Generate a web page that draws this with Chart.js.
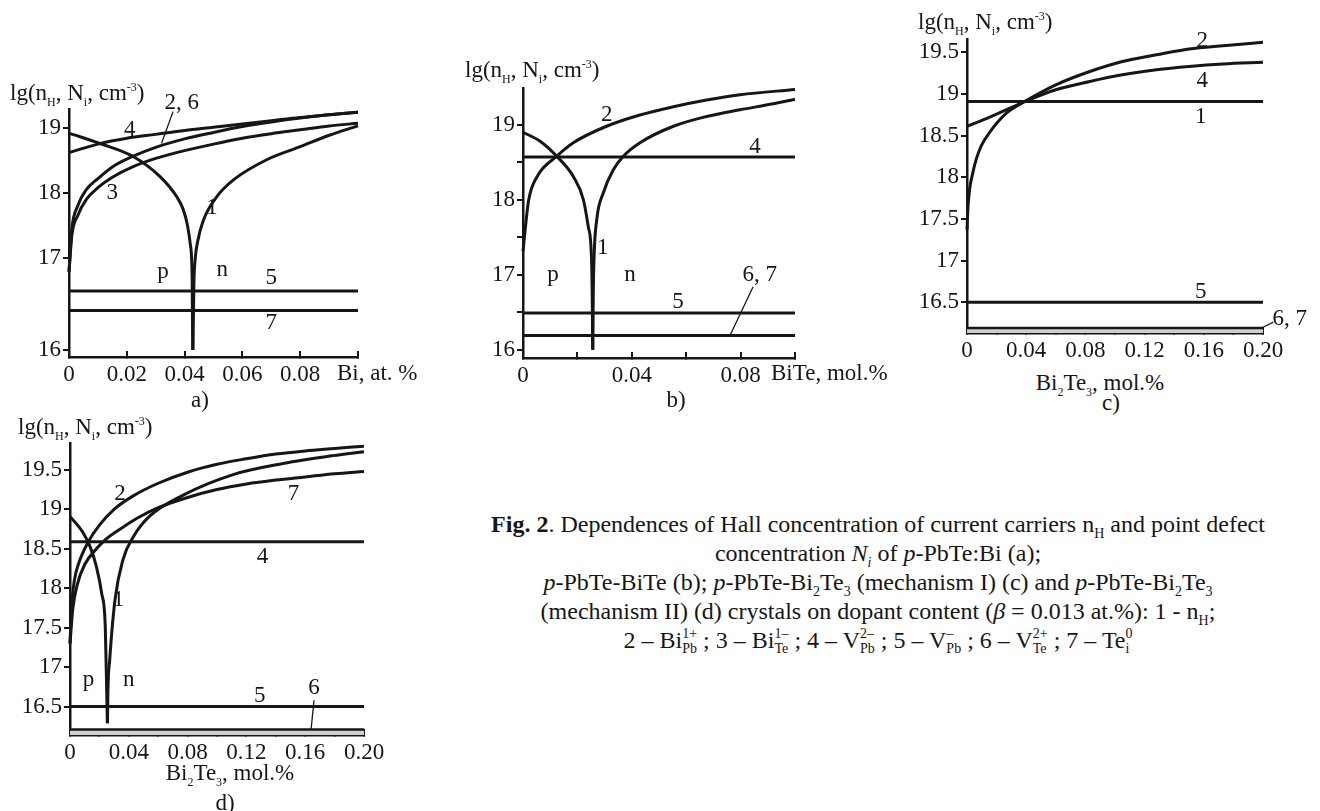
<!DOCTYPE html>
<html>
<head>
<meta charset="utf-8">
<title>Fig. 2</title>
<script src="https://cdn.jsdelivr.net/npm/chart.js@4.4.1/dist/chart.umd.min.js"></script>
<style>
  body { margin: 0; background: #fff; }
  #fig { position: relative; width: 1320px; height: 811px; overflow: hidden;
         font-family: "Liberation Serif", "Times New Roman", serif; color: #161616; }
  canvas { position: absolute; }
  .txt { position: absolute; font-size: 23px; line-height: 26px; white-space: nowrap; }
  .mid { transform: translateX(-50%); }
  .txt sub, .txt sup { font-size: 12px; line-height: 0; }
  .caption { position: absolute; left: 443px; width: 870px; top: 510px; text-align: center;
             font-size: 24px; line-height: 29px; white-space: nowrap; }
  .caption sub { font-size: 14px; line-height: 0; }
  .ss { display: inline-block; font-size: 14px; line-height: 15px; vertical-align: -5px; text-align: left; }
</style>
</head>
<body>
<div id="fig">
  <canvas id="chartA"></canvas>
  <canvas id="chartB"></canvas>
  <canvas id="chartC"></canvas>
  <canvas id="chartD"></canvas>

  <div class="txt" style="left:10px;top:80px">lg(n<sub>H</sub>, N<sub>i</sub>, cm<sup>-3</sup>)</div>
  <div class="txt" style="left:337px;top:360px">Bi, at. %</div>
  <div class="txt mid" style="left:200px;top:387px">a)</div>

  <div class="txt" style="left:465px;top:57px">lg(n<sub>H</sub>, N<sub>i</sub>, cm<sup>-3</sup>)</div>
  <div class="txt" style="left:771px;top:360px">BiTe, mol.%</div>
  <div class="txt mid" style="left:676px;top:387px">b)</div>

  <div class="txt" style="left:918px;top:9px">lg(n<sub>H</sub>, N<sub>i</sub>, cm<sup>-3</sup>)</div>
  <div class="txt mid" style="left:1100px;top:370px">Bi<sub>2</sub>Te<sub>3</sub>, mol.%</div>
  <div class="txt mid" style="left:1111px;top:390px">c)</div>

  <div class="txt" style="left:18px;top:414px">lg(n<sub>H</sub>, N<sub>i</sub>, cm<sup>-3</sup>)</div>
  <div class="txt mid" style="left:230px;top:760px">Bi<sub>2</sub>Te<sub>3</sub>, mol.%</div>
  <div class="txt mid" style="left:225px;top:790px">d)</div>

  <div class="caption">
    <b>Fig. 2</b>. Dependences of Hall concentration of current carriers n<sub>H</sub> and point defect<br>
    concentration <i>N<sub>i</sub></i> of <i>p</i>-PbTe:Bi (a);<br>
    <i>p</i>-PbTe-BiTe (b); <i>p</i>-PbTe-Bi<sub>2</sub>Te<sub>3</sub> (mechanism I) (c) and <i>p</i>-PbTe-Bi<sub>2</sub>Te<sub>3</sub><br>
    (mechanism II) (d) crystals on dopant content (<i>β</i> = 0.013 at.%): 1 - n<sub>H</sub>;<br>
    2 – Bi<span class="ss">1+<br>Pb</span> ; 3 – Bi<span class="ss">1–<br>Te</span> ; 4 – V<span class="ss">2–<br>Pb</span> ;
    5 – V<span class="ss">–<br>Pb</span> ; 6 – V<span class="ss">2+<br>Te</span> ; 7 – Te<span class="ss">0<br>i</span>
  </div>
</div>

<script>
// ---- panel a: p-PbTe:Bi, x in at.% Bi ----
const aXTicks = [0, 0.02, 0.04, 0.06, 0.08, 0.1];
const aXLabels = ['0', '0.02', '0.04', '0.06', '0.08', ''];
const aYTicks = [16, 17, 18, 19];
const aYLabels = ['16', '17', '18', '19'];
const aCurve1pX = [0, 0.0107, 0.0222, 0.0315, 0.0373, 0.0395, 0.041, 0.042, 0.0426, 0.0428];
const aCurve1pY = [18.92, 18.76, 18.56, 18.25, 17.94, 17.75, 17.5, 17.2, 16.8, 16.0];
const aCurve1nX = [0.0429, 0.0432, 0.0437, 0.0445, 0.0465, 0.0511, 0.0569, 0.0684, 0.08, 0.0903, 0.1];
const aCurve1nY = [16.0, 16.7, 17.0, 17.25, 17.58, 17.94, 18.2, 18.51, 18.71, 18.89, 19.03];
const aCurve26X = [0, 0.001, 0.003, 0.006, 0.01, 0.015, 0.022, 0.03, 0.04, 0.05, 0.06, 0.07, 0.08, 0.09, 0.1];
const aCurve26Y = [16.85, 17.45, 17.8, 18.05, 18.22, 18.4, 18.56, 18.7, 18.83, 18.93, 19.02, 19.09, 19.15, 19.2, 19.24];
const aCurve4X = [0, 0.01, 0.02, 0.03, 0.04, 0.05, 0.06, 0.07, 0.08, 0.09, 0.1];
const aCurve4Y = [18.62, 18.75, 18.84, 18.9, 18.96, 19.01, 19.06, 19.11, 19.16, 19.2, 19.24];
const aCurve3X = [0, 0.001, 0.003, 0.006, 0.01, 0.015, 0.022, 0.03, 0.04, 0.05, 0.06, 0.07, 0.08, 0.09, 0.1];
const aCurve3Y = [16.85, 17.35, 17.65, 17.9, 18.08, 18.24, 18.4, 18.53, 18.65, 18.75, 18.84, 18.91, 18.97, 19.03, 19.07];
const aLevel5 = 16.64;
const aLevel7 = 16.43;

// ---- panel b: p-PbTe-BiTe, x in mol.% BiTe ----
const bXTicks = [0, 0.02, 0.04, 0.06, 0.08, 0.1];
const bXLabels = ['0', '', '0.04', '', '0.08', ''];
const bYTicks = [16, 16.5, 17, 17.5, 18, 18.5, 19];
const bYLabels = ['16', '', '17', '', '18', '', '19'];
const bCurve1pX = [0, 0.0063, 0.0124, 0.0185, 0.0222, 0.024, 0.0252, 0.0255, 0.0256];
const bCurve1pY = [18.9, 18.78, 18.58, 18.31, 18.0, 17.64, 17.2, 16.53, 16.0];
const bCurve1nX = [0.0257, 0.0258, 0.0261, 0.0271, 0.0295, 0.0332, 0.0369, 0.043, 0.0553, 0.0675, 0.0798, 0.092, 0.1];
const bCurve1nY = [16.0, 16.6, 17.2, 17.73, 18.09, 18.4, 18.58, 18.76, 18.98, 19.11, 19.2, 19.28, 19.34];
const bCurve2X = [0, 0.0009, 0.0021, 0.0052, 0.0124, 0.0185, 0.0307, 0.043, 0.0553, 0.0675, 0.0798, 0.1];
const bCurve2Y = [17.31, 17.64, 18.0, 18.31, 18.58, 18.76, 18.98, 19.13, 19.24, 19.33, 19.4, 19.47];
const bLevel4 = 18.57;
const bLevel5 = 16.49;
const bLevel67 = 16.19;

// ---- panel c: p-PbTe-Bi2Te3, mechanism I ----
const cXTicks = [0, 0.02, 0.04, 0.06, 0.08, 0.1, 0.12, 0.14, 0.16, 0.18, 0.2];
const cXLabels = ['0', '', '0.04', '', '0.08', '', '0.12', '', '0.16', '', '0.20'];
const cYTicks = [16.5, 17, 17.5, 18, 18.5, 19, 19.5];
const cYLabels = ['16.5', '17', '17.5', '18', '18.5', '19', '19.5'];
const cCurve2X = [0, 0.0007, 0.0018, 0.0035, 0.0063, 0.0097, 0.0153, 0.0266, 0.038, 0.06, 0.083, 0.105, 0.128, 0.15, 0.173, 0.2];
const cCurve2Y = [17.37, 17.65, 17.86, 18.02, 18.22, 18.38, 18.54, 18.77, 18.9, 19.11, 19.27, 19.39, 19.47, 19.54, 19.58, 19.62];
const cCurve4X = [0, 0.015, 0.038, 0.06, 0.083, 0.105, 0.128, 0.15, 0.173, 0.2];
const cCurve4Y = [18.61, 18.72, 18.9, 19.05, 19.15, 19.23, 19.29, 19.33, 19.36, 19.38];
const cLevel1 = 18.91;
const cLevel5 = 16.5;
const cLevel67 = 16.19;

// ---- panel d: p-PbTe-Bi2Te3, mechanism II ----
const dXTicks = cXTicks;
const dXLabels = cXLabels;
const dYTicks = cYTicks;
const dYLabels = cYLabels;
const dCurve1pX = [0, 0.009, 0.0136, 0.018, 0.0215, 0.024, 0.025, 0.0254];
const dCurve1pY = [18.91, 18.7, 18.53, 18.27, 17.94, 17.51, 16.67, 16.29];
const dCurve1nX = [0.0255, 0.0258, 0.027, 0.0306, 0.036, 0.043, 0.054, 0.077, 0.111, 0.145, 0.179, 0.2];
const dCurve1nY = [16.29, 16.7, 17.09, 17.85, 18.36, 18.65, 18.91, 19.18, 19.44, 19.58, 19.68, 19.73];
const dCurve2X = [0, 0.001, 0.003, 0.006, 0.0125, 0.02, 0.03, 0.043, 0.06, 0.08, 0.1, 0.12, 0.14, 0.16, 0.18, 0.2];
const dCurve2Y = [17.3, 17.75, 18.1, 18.32, 18.59, 18.8, 19.0, 19.17, 19.33, 19.47, 19.57, 19.64, 19.7, 19.74, 19.77, 19.8];
const dCurve7X = [0, 0.002, 0.005, 0.01, 0.018, 0.025, 0.035, 0.045, 0.06, 0.08, 0.1, 0.12, 0.14, 0.16, 0.18, 0.2];
const dCurve7Y = [17.3, 17.75, 18.05, 18.3, 18.5, 18.63, 18.76, 18.88, 19.02, 19.15, 19.25, 19.32, 19.37, 19.41, 19.45, 19.48];
const dLevel4 = 18.59;
const dLevel5 = 16.5;
const dLevel6 = 16.21;

// curve numbers written on the plots: [x, y, text]
const aNotes = [[0.021, 18.97, '4'], [0.039, 19.38, '2, 6'], [0.015, 18.0, '3'], [0.0495, 17.77, '1'],
                [0.0325, 16.85, 'p'], [0.053, 16.87, 'n'], [0.07, 16.78, '5'], [0.07, 16.29, '7']];
const bNotes = [[0.0308, 19.13, '2'], [0.0853, 18.71, '4'], [0.0293, 17.36, '1'], [0.011, 17.0, 'p'],
                [0.0393, 17.0, 'n'], [0.087, 17.0, '6, 7'], [0.057, 16.64, '5']];
const cNotes = [[0.159, 19.64, '2'], [0.159, 19.16, '4'], [0.158, 18.73, '1'], [0.158, 16.62, '5'], [0.218, 16.3, '6, 7']];
const dNotes = [[0.034, 19.2, '2'], [0.152, 19.2, '7'], [0.131, 18.4, '4'], [0.033, 17.85, '1'],
                [0.0125, 16.84, 'p'], [0.04, 16.84, 'n'], [0.129, 16.64, '5'], [0.166, 16.73, '6']];
const aLeaders = [[0.036, 19.25, 0.032, 18.76]];
const bLeaders = [[0.0846, 16.84, 0.0761, 16.19]];
const cLeaders = [[0.199, 16.19, 0.207, 16.26]];
const dLeaders = [[0.166, 16.58, 0.164, 16.21]];

const INK = '#161616';
const FONT = { family: '"Liberation Serif", "Times New Roman", serif', size: 23 };
const PAD_L = 60, PAD_T = 30, PAD_R = 50, PAD_B = 30;

// y axis of panel a is drawn with a longer step between 16 and 17
class StretchScale extends Chart.LinearScale {
  warp(v) {
    const b = this.options.breakAt, k = this.options.stretch;
    return v < b ? b - (b - v) * k : v;
  }
  unwarp(v) {
    const b = this.options.breakAt, k = this.options.stretch;
    return v < b ? b - (b - v) / k : v;
  }
  getPixelForValue(v) { return super.getPixelForValue(v == null ? v : this.warp(v)); }
  getValueForPixel(p) { return this.unwarp(super.getValueForPixel(p)); }
}
StretchScale.id = 'stretch';
StretchScale.defaults = Chart.LinearScale.defaults;
Chart.register(StretchScale);

const notesPlugin = {
  id: 'notes',
  afterDatasetsDraw(chart, args, opts) {
    const { ctx, scales: { x, y } } = chart;
    ctx.save();
    ctx.fillStyle = INK;
    ctx.strokeStyle = INK;
    ctx.lineWidth = 1.3;
    ctx.font = '23px "Liberation Serif", "Times New Roman", serif';
    ctx.textAlign = 'center';
    ctx.textBaseline = 'middle';
    (opts.leaders || []).forEach(([x1, y1, x2, y2]) => {
      ctx.beginPath();
      ctx.moveTo(x.getPixelForValue(x1), y.getPixelForValue(y1));
      ctx.lineTo(x.getPixelForValue(x2), y.getPixelForValue(y2));
      ctx.stroke();
    });
    (opts.items || []).forEach(([vx, vy, text]) => {
      ctx.fillText(text, x.getPixelForValue(vx), y.getPixelForValue(vy));
    });
    ctx.restore();
  }
};

function pts(xs, ys) {
  return xs.map((x, i) => ({ x, y: ys[i] }));
}

function level(v, xMax) {
  return [{ x: 0, y: v }, { x: xMax, y: v }];
}

function curve(data, extra) {
  return Object.assign({
    data,
    borderColor: INK,
    borderWidth: 3,
    pointRadius: 0,
    cubicInterpolationMode: 'monotone',
    fill: false,
    clip: false
  }, extra);
}

function axisX(max, vals, labels) {
  return {
    type: 'linear', min: 0, max, z: 1, bounds: 'data',
    border: { color: INK, width: 2.5 },
    grid: { drawOnChartArea: false, color: INK, lineWidth: 2, tickLength: -6 },
    ticks: { autoSkip: false, maxRotation: 0, padding: 10, color: INK, font: FONT,
             callback: (v, i) => labels[i] },
    afterBuildTicks: s => { s.ticks = vals.map(value => ({ value })); },
    afterFit: s => { s.height = PAD_B; }
  };
}

function axisY(min, max, vals, labels, extra) {
  return Object.assign({
    type: 'linear', min, max, bounds: 'data',
    border: { color: INK, width: 2.5 },
    grid: { drawOnChartArea: false, color: INK, lineWidth: 2, tickLength: 6 },
    ticks: { autoSkip: false, padding: 2, color: INK, font: FONT,
             callback: (v, i) => labels[i] },
    afterBuildTicks: s => { s.ticks = vals.map(value => ({ value })); },
    afterFit: s => { s.width = PAD_L; }
  }, extra);
}

function makePanel(id, area, datasets, scales, items, leaders) {
  const canvas = document.getElementById(id);
  const w = area.right - area.left + PAD_L + PAD_R;
  const h = area.bottom - area.top + PAD_T + PAD_B;
  canvas.width = w;
  canvas.height = h;
  canvas.style.left = (area.left - PAD_L) + 'px';
  canvas.style.top = (area.top - PAD_T) + 'px';
  canvas.style.width = w + 'px';
  canvas.style.height = h + 'px';
  return new Chart(canvas, {
    type: 'line',
    data: { datasets },
    options: {
      responsive: false,
      animation: false,
      events: [],
      layout: { padding: { left: 0, top: PAD_T, right: PAD_R, bottom: 0 } },
      scales,
      plugins: {
        legend: { display: false },
        tooltip: { enabled: false },
        notes: { items, leaders }
      }
    },
    plugins: [notesPlugin]
  });
}

makePanel('chartA', { left: 69, right: 358, top: 109, bottom: 357 }, [
  curve(pts(aCurve1pX, aCurve1pY)),
  curve(pts(aCurve1nX, aCurve1nY)),
  curve(pts(aCurve26X, aCurve26Y)),
  curve(pts(aCurve4X, aCurve4Y)),
  curve(pts(aCurve3X, aCurve3Y)),
  curve(level(aLevel5, 0.1)),
  curve(level(aLevel7, 0.1))
], {
  x: axisX(0.1, aXTicks, aXLabels),
  y: axisY(15.477, 19.29, aYTicks, aYLabels, { type: 'stretch', breakAt: 17, stretch: 1.415 })
}, aNotes, aLeaders);

makePanel('chartB', { left: 523, right: 795, top: 88, bottom: 358 }, [
  curve(pts(bCurve1pX, bCurve1pY)),
  curve(pts(bCurve1nX, bCurve1nY)),
  curve(pts(bCurve2X, bCurve2Y)),
  curve(level(bLevel4, 0.1)),
  curve(level(bLevel5, 0.1)),
  curve(level(bLevel67, 0.1))
], {
  x: axisX(0.1, bXTicks, bXLabels),
  y: axisY(15.89, 19.49, bYTicks, bYLabels)
}, bNotes, bLeaders);

makePanel('chartC', { left: 967, right: 1263, top: 39, bottom: 333 }, [
  curve(pts(cCurve2X, cCurve2Y)),
  curve(pts(cCurve4X, cCurve4Y)),
  curve(level(cLevel1, 0.2)),
  curve(level(cLevel5, 0.2)),
  curve(level(cLevel67, 0.2), { fill: 'start', backgroundColor: '#cfcfcf', borderWidth: 2.5 })
], {
  x: axisX(0.2, cXTicks, cXLabels),
  y: axisY(16.13, 19.66, cYTicks, cYLabels)
}, cNotes, cLeaders);

makePanel('chartD', { left: 70, right: 364, top: 443, bottom: 735 }, [
  curve(pts(dCurve1pX, dCurve1pY)),
  curve(pts(dCurve1nX, dCurve1nY)),
  curve(pts(dCurve2X, dCurve2Y)),
  curve(pts(dCurve7X, dCurve7Y)),
  curve(level(dLevel4, 0.2)),
  curve(level(dLevel5, 0.2)),
  curve(level(dLevel6, 0.2), { fill: 'start', backgroundColor: '#cfcfcf', borderWidth: 2.5 })
], {
  x: axisX(0.2, dXTicks, dXLabels),
  y: axisY(16.14, 19.84, dYTicks, dYLabels)
}, dNotes, dLeaders);
</script>
</body>
</html>
